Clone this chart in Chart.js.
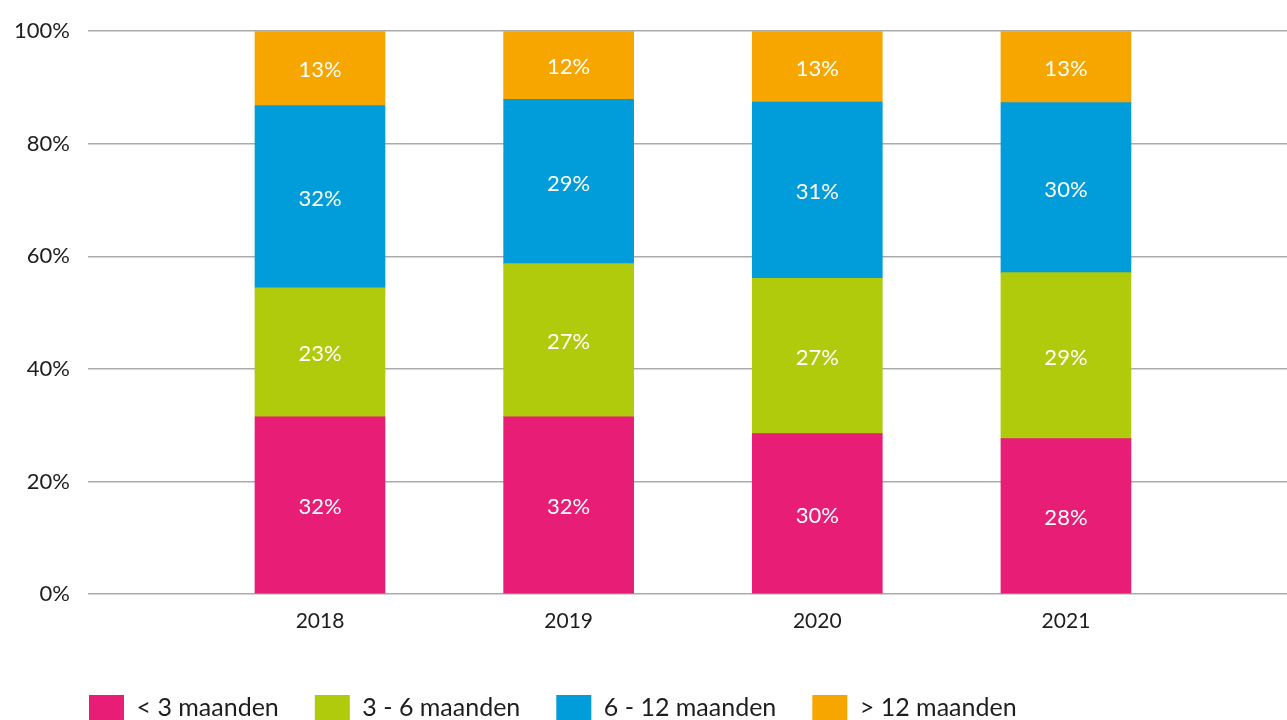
<!DOCTYPE html>
<html>
<head>
  <title>Duur per jaar</title>
  <script src="https://cdn.jsdelivr.net/npm/chart.js"></script>
  <style>
    html, body { margin: 0; padding: 0; background: #fff; overflow: hidden; }
  </style>
</head>
<body>
  <canvas id="chart" width="1287" height="731"></canvas>

  <script>
    const years = [2018, 2019, 2020, 2021];

    // bar heights (percent)
    const lt3 = [31.5, 31.5, 28.5, 27.6];
    const m3to6 = [22.9, 27.2, 27.6, 29.5];
    const m6to12 = [32.4, 29.2, 31.3, 30.2];
    const gt12 = [13.2, 12.1, 12.6, 12.7];

    // printed percentages inside the bars
    const lt3Text = [32, 32, 30, 28];
    const m3to6Text = [23, 27, 27, 29];
    const m6to12Text = [32, 29, 31, 30];
    const gt12Text = [13, 12, 13, 13];

    const yTicks = [0, 20, 40, 60, 80, 100];

    const FONT = 'Lato';
    const INK = '#1e1e1e';

    const makeSet = (label, values, printed, color) => ({
      label: label,
      data: years.map((y, i) => ({ x: y, y: values[i] })),
      printed: printed,
      backgroundColor: color,
      borderWidth: 0,
      barThickness: 130
    });

    // white percentage in the middle of every segment
    const segmentLabels = {
      id: 'segmentLabels',
      afterDatasetsDraw(chart) {
        const ctx = chart.ctx;
        ctx.save();
        ctx.fillStyle = '#fff';
        ctx.font = '22px ' + FONT;
        ctx.textAlign = 'center';
        ctx.textBaseline = 'middle';
        chart.data.datasets.forEach((ds, di) => {
          chart.getDatasetMeta(di).data.forEach((bar, i) => {
            const c = bar.getCenterPoint();
            ctx.fillText(ds.printed[i] + '%', c.x, c.y + 2);
          });
        });
        ctx.restore();
      }
    };

    // legend row starts under the plot, not at the canvas edge
    const legendShift = {
      id: 'legendShift',
      afterLayout(chart) {
        chart.legend.left = 53;
      }
    };

    new Chart(document.getElementById('chart').getContext('2d'), {
      type: 'bar',
      data: {
        datasets: [
          makeSet('< 3 maanden', lt3, lt3Text, '#e71d76'),
          makeSet('3 - 6 maanden', m3to6, m3to6Text, '#afcb0b'),
          makeSet('6 - 12 maanden', m6to12, m6to12Text, '#009dda'),
          makeSet('> 12 maanden', gt12, gt12Text, '#f7a600')
        ]
      },
      options: {
        responsive: false,
        animation: false,
        layout: { padding: { left: 0, top: 31, right: 0, bottom: 0 } },
        plugins: {
          tooltip: { enabled: false },
          legend: {
            position: 'bottom',
            align: 'start',
            labels: {
              boxWidth: 35,
              boxHeight: 26,
              padding: 36,
              color: INK,
              font: { family: FONT, size: 25 }
            }
          }
        },
        scales: {
          x: {
            type: 'linear',
            stacked: true,
            offset: false,
            min: 2017.067,
            max: 2021.889,
            afterBuildTicks: (s) => { s.ticks = years.map(v => ({ value: v })); },
            afterFit: (s) => { s.height = 65; },
            grid: { display: false },
            border: { display: false },
            ticks: {
              padding: 7,
              color: INK,
              font: { family: FONT, size: 21 },
              callback: (v) => String(v)
            }
          },
          y: {
            stacked: true,
            min: 0,
            max: 100,
            afterBuildTicks: (s) => { s.ticks = yTicks.map(v => ({ value: v })); },
            afterFit: (s) => { s.width = 88; },
            grid: { color: '#ababab', lineWidth: 1.5, drawTicks: false },
            border: { display: false },
            ticks: {
              padding: 18,
              color: INK,
              font: { family: FONT, size: 22 },
              callback: (v) => v + '%'
            }
          }
        }
      },
      plugins: [segmentLabels, legendShift]
    });
  </script>
</body>
</html>
